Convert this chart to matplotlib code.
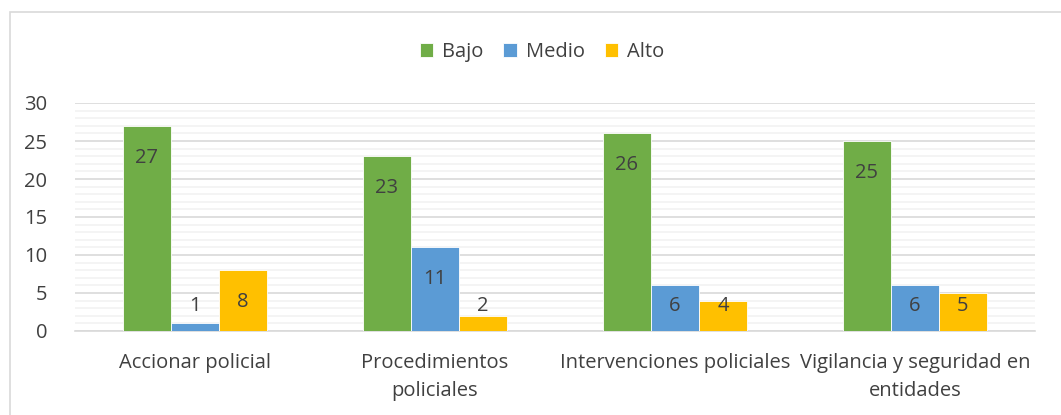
import numpy as np
import matplotlib
matplotlib.use("Agg")
import matplotlib.pyplot as plt
from matplotlib.patches import Rectangle

plt.rcParams['font.family'] = ['Open Sans', 'DejaVu Sans']

categories = ["Accionar policial", "Procedimientos\npoliciales",
              "Intervenciones policiales", "Vigilancia y seguridad en\nentidades"]
series_names = ["Bajo", "Medio", "Alto"]
bajo = [27, 23, 26, 25]
medio = [1, 11, 6, 6]
alto = [8, 2, 4, 5]
colors = ["#70AD47", "#5B9BD5", "#FFC000"]
text_color = "#404040"
fs = 14.5

fig = plt.figure(figsize=(10.61, 4.15), dpi=100)
ax = fig.add_axes([75/1061, 1-331/415, 960/1061, 228/415])

# outer chart border
fig.patches.append(Rectangle((10/1061, -0.05), 1.1, 1-12/415+0.05,
                             transform=fig.transFigure, fill=False,
                             edgecolor="#D9D9D9", linewidth=1.2))

x = np.arange(len(categories))
w = 0.2
for i, (vals, name, c) in enumerate(zip([bajo, medio, alto], series_names, colors)):
    pos = x + (i-1)*w
    ax.bar(pos, vals, width=w, color=c, label=name, zorder=3,
           edgecolor="white", linewidth=0.6)
    for p, v in zip(pos, vals):
        ax.text(p, max(v-4.2, 3.3), str(v), ha="center", va="center",
                fontsize=fs, color=text_color, zorder=4)

ax.set_xlim(-0.5, len(categories)-0.5)
ax.set_ylim(0, 30)
ax.set_yticks(range(0, 31, 5))
ax.set_yticks(range(0, 31, 1), minor=True)
ax.grid(axis="y", which="major", color="#D9D9D9", linewidth=1.2, zorder=0)
ax.grid(axis="y", which="minor", color="#F2F2F2", linewidth=1.2, zorder=0)
ax.tick_params(axis="y", which="both", length=0, labelsize=fs,
               labelcolor=text_color, pad=20)
ax.set_xticks(x)
ax.set_xticklabels(categories, fontsize=fs, color=text_color, linespacing=1.55)
ax.tick_params(axis="x", length=0, pad=16)
for s in ["top", "right", "left"]:
    ax.spines[s].set_visible(False)
ax.spines["bottom"].set_color("#D9D9D9")
ax.spines["bottom"].set_linewidth(1.2)

ax.legend(loc="center", bbox_to_anchor=(542/1061, 1-52/415), bbox_transform=fig.transFigure,
          ncol=3, frameon=False, fontsize=fs, handlelength=0.65, handleheight=0.65,
          handletextpad=0.45, columnspacing=1.0, labelcolor=text_color)

fig.savefig("out.png", dpi=100)
